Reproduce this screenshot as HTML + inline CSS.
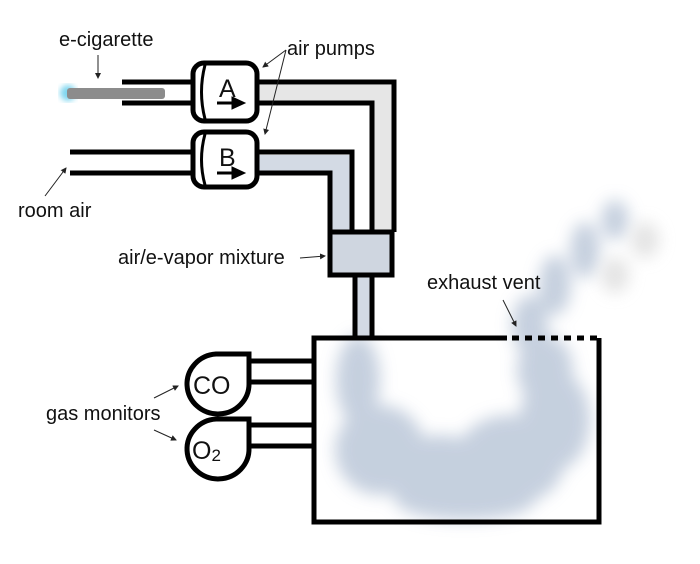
<!DOCTYPE html>
<html><head><meta charset="utf-8"><style>
html,body{margin:0;padding:0;background:#fff;}
svg{display:block;}
text{font-family:"Liberation Sans",Arial,sans-serif;fill:#111;}
</style></head><body>
<svg width="700" height="564" viewBox="0 0 700 564" xmlns="http://www.w3.org/2000/svg">
<defs>
<filter id="b" x="-30%" y="-30%" width="160%" height="160%"><feGaussianBlur stdDeviation="8"/></filter>
<filter id="g"><feGaussianBlur stdDeviation="3"/></filter>
<marker id="ar" markerWidth="6" markerHeight="6" refX="5" refY="3" orient="auto"><path d="M0,0 L6,3 L0,6 Z" fill="#222"/></marker>
</defs>
<!-- smoke -->
<g filter="url(#b)" fill="#bcc8d9" opacity="0.85">
<ellipse cx="358" cy="380" rx="22" ry="45"/>
<ellipse cx="380" cy="450" rx="45" ry="45"/>
<ellipse cx="440" cy="475" rx="55" ry="40"/>
<ellipse cx="510" cy="460" rx="55" ry="45"/>
<ellipse cx="555" cy="420" rx="35" ry="50"/>
<ellipse cx="545" cy="370" rx="28" ry="35"/>
<ellipse cx="530" cy="325" rx="18" ry="30"/>
<ellipse cx="555" cy="285" rx="16" ry="30"/>
<ellipse cx="585" cy="250" rx="15" ry="28"/>
<ellipse cx="615" cy="220" rx="14" ry="20"/>
<ellipse cx="465" cy="500" rx="70" ry="20"/>
</g>
<g filter="url(#b)" fill="#dddddd" opacity="0.8">
<ellipse cx="645" cy="240" rx="14" ry="18"/>
<ellipse cx="615" cy="275" rx="14" ry="18"/>
</g>
<!-- pipe fills -->
<path d="M258,85 H392 V230 H372 V103 H258 Z" fill="#e6e6e6"/>
<path d="M258,155 H352 V230 H330 V173 H258 Z" fill="#d3dae4"/>
<rect x="355" y="275" width="17" height="62" fill="#d3dae4"/>
<rect x="330" y="232" width="62" height="43" fill="#cfd6e0"/>
<!-- e-cig -->
<circle cx="68" cy="93" r="8" fill="#7fd6ef" filter="url(#g)"/>
<rect x="67" y="88" width="98" height="11" rx="3" fill="#8c8c8c"/>
<g stroke="#000" stroke-width="5" fill="none">
<line x1="122" y1="82" x2="195" y2="82"/>
<line x1="122" y1="103" x2="195" y2="103"/>
<line x1="70" y1="152" x2="195" y2="152"/>
<line x1="70" y1="173" x2="195" y2="173"/>
<path d="M256,82 H394 V232"/>
<path d="M256,103 H372 V232"/>
<path d="M256,152 H352 V232"/>
<path d="M256,173 H330 V232"/>
<rect x="330" y="232" width="62" height="43"/>
<line x1="355" y1="275" x2="355" y2="338"/>
<line x1="372" y1="275" x2="372" y2="338"/>
<path d="M507,338 H314 V522 H599 V338"/>
<path d="M512,338 H599" stroke-dasharray="7,6"/>
<line x1="249" y1="361" x2="314" y2="361"/>
<line x1="249" y1="382" x2="314" y2="382"/>
<line x1="249" y1="425" x2="314" y2="425"/>
<line x1="249" y1="446" x2="314" y2="446"/>
</g>
<!-- pumps -->
<g stroke="#000" stroke-width="5" fill="#fff">
<rect x="193" y="63" width="64" height="58" rx="11"/>
<rect x="193" y="132" width="64" height="55" rx="11"/>
<path d="M249,354 V383 A31,30 0 1 1 216,354 Z"/>
<path d="M249,419 V448 A31,30 0 1 1 216,419 Z"/>
</g>
<g stroke="#000" stroke-width="3" fill="none">
<path d="M205,65 Q198,92 205,119"/>
<path d="M205,134 Q198,160 205,185"/>
</g>
<g fill="#000" stroke="#000">
<line x1="217" y1="103" x2="235" y2="103" stroke-width="3"/><path d="M232,97 L245,103 L232,109 Z"/>
<line x1="217" y1="173" x2="235" y2="173" stroke-width="3"/><path d="M232,167 L245,173 L232,179 Z"/>
</g>
<text x="219" y="97" font-size="25">A</text>
<text x="219" y="166" font-size="25">B</text>
<text x="193" y="394" font-size="25">CO</text>
<text x="192" y="459" font-size="25">O<tspan font-size="17" dy="2">2</tspan></text>
<!-- labels -->
<g font-size="20">
<text x="59" y="46">e-cigarette</text>
<text x="287" y="55">air pumps</text>
<text x="18" y="217">room air</text>
<text x="118" y="264">air/e-vapor mixture</text>
<text x="427" y="289">exhaust vent</text>
<text x="46" y="420">gas monitors</text>
</g>
<g stroke="#222" stroke-width="1" marker-end="url(#ar)">
<line x1="98" y1="55" x2="98" y2="78"/>
<line x1="286" y1="50" x2="263" y2="67"/>
<line x1="286" y1="50" x2="265" y2="134"/>
<line x1="45" y1="196" x2="66" y2="168"/>
<line x1="300" y1="258" x2="325" y2="256"/>
<line x1="503" y1="300" x2="516" y2="326"/>
<line x1="154" y1="398" x2="178" y2="386"/>
<line x1="154" y1="430" x2="176" y2="440"/>
</g>
</svg>
</body></html>
